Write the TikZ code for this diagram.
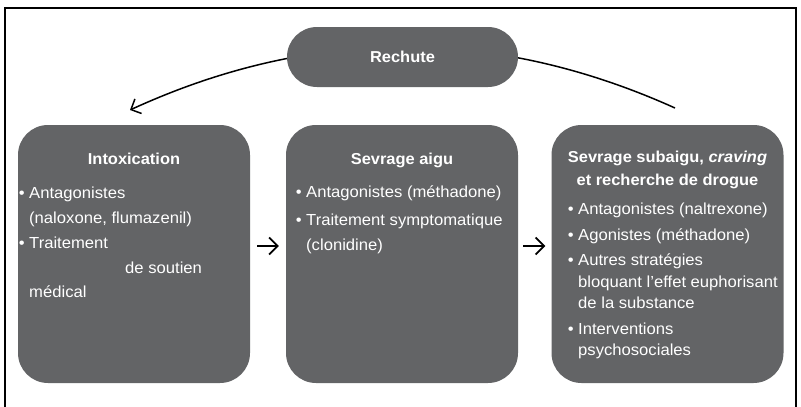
\documentclass[tikz,border=0pt]{standalone}
\usepackage{fontspec}
\setmainfont{Liberation Sans}[FakeStretch=1.04]
\usetikzlibrary{arrows.meta,calc}
\definecolor{boxgray}{RGB}{99,100,102}
\newcommand\bul{\llap{•\hspace{4.5pt}}}
\tikzset{
  stage/.style={fill=boxgray, rounded corners=30pt, minimum width=232pt, minimum height=258pt, inner sep=0pt},
  pill/.style={fill=boxgray, rounded corners=30pt, minimum width=231pt, minimum height=60pt, inner sep=0pt},
  ttl/.style={text=white, font=\bfseries\fontsize{15.8}{18}\selectfont, anchor=base, inner sep=0pt},
  txt/.style={text=white, font=\fontsize{16}{18}\selectfont, anchor=base west, inner sep=0pt},
  flowarrow/.style={-{Straight Barb[length=8.5pt,width=17pt]}, line width=1.8pt},
  backarrow/.style={-{Straight Barb[length=8pt,width=16pt]}, line width=1.5pt},
  frame/.style={line width=1.2pt}
}
\begin{document}
\begin{tikzpicture}[x=1pt,y=-1pt]
\useasboundingbox (0,0) rectangle (801,407);
% frame
\coordinate (fbl) at (5,407);
\coordinate (ftl) at (5,8);
\coordinate (ftr) at (796,8);
\coordinate (fbr) at (796,407);
\draw[frame] (fbl) -- (ftl) -- (ftr) -- (fbr);

% relapse curve (drawn under the Rechute node)
\coordinate (cstart) at (675,108);
\coordinate (cend) at (130,110);
\draw[backarrow] (cstart) .. controls (493,26) and (311,27) .. (cend);

% nodes
\node[pill] (rechute) at (402.5,57) {};
\node[ttl] (rechutet) at (402.5,62.5) {Rechute};

\node[stage] (box1) at (134,254) {};
\node[stage] (box2) at (402,254) {};
\node[stage] (box3) at (667.5,254) {};

% flow arrows
\draw[flowarrow] ($(box1.east)+(7,-8)$) -- ($(box2.west)+(-7,-8)$);
\draw[flowarrow] ($(box2.east)+(5,-8)$) -- ($(box3.west)+(-6,-8)$);

% box 1 text
\node[ttl] (t1) at (134,164) {Intoxication};
\node[txt] (b1a) at (29,198.5) {\bul Antagonistes};
\node[txt] (b1b) at (29,223.5) {(naloxone, flumazenil)};
\node[txt] (b1c) at (29,248.5) {\bul Traitement};
\node[txt] (b1d) at (125,273.5) {de soutien};
\node[txt] (b1e) at (29,297.5) {médical};

% box 2 text
\node[ttl] (t2) at (402,164) {Sevrage aigu};
\node[txt] (b2a) at (306,197.5) {\bul Antagonistes (méthadone)};
\node[txt] (b2b) at (306,225.5) {\bul Traitement symptomatique};
\node[txt] (b2c) at (306,250.5) {(clonidine)};

% box 3 text
\node[ttl] (t3a) at (667.5,162) {Sevrage subaigu, \textit{craving}};
\node[ttl] (t3b) at (667.5,185) {et recherche de drogue};
\node[txt] (b3a) at (578,214.5) {\bul Antagonistes (naltrexone)};
\node[txt] (b3b) at (578,240.5) {\bul Agonistes (méthadone)};
\node[txt] (b3c) at (578,265.5) {\bul Autres stratégies};
\node[txt] (b3d) at (578,287.5) {bloquant l’effet euphorisant};
\node[txt] (b3e) at (578,308.5) {de la substance};
\node[txt] (b3f) at (578,334.5) {\bul Interventions};
\node[txt] (b3g) at (578,355.5) {psychosociales};
\end{tikzpicture}
\end{document}
